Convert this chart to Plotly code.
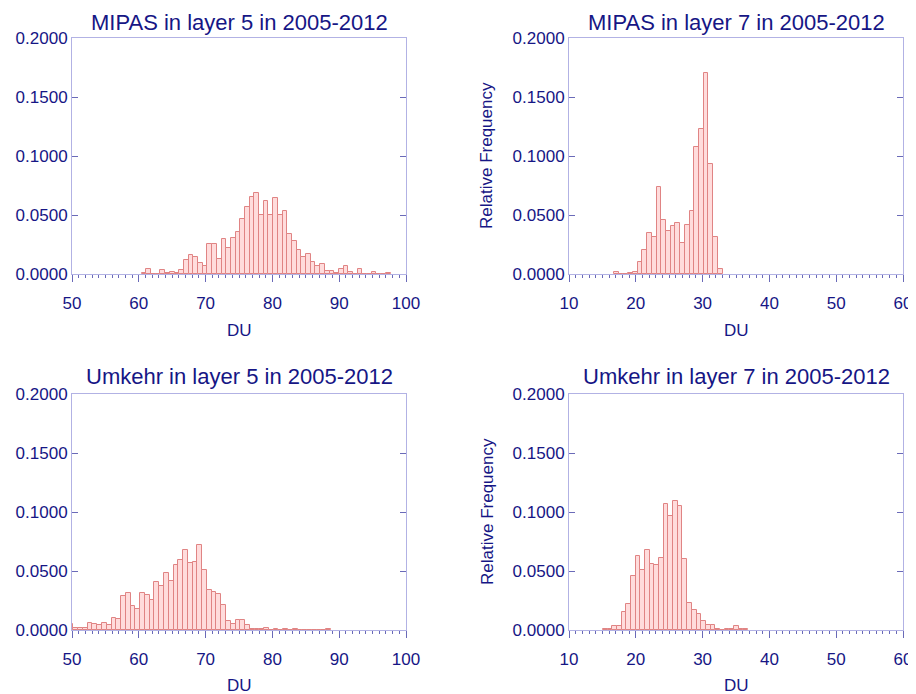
import plotly.graph_objects as go
import numpy as np

# ---------------- data ----------------
titles = ["MIPAS in layer 5 in 2005-2012", "MIPAS in layer 7 in 2005-2012",
          "Umkehr in layer 5 in 2005-2012", "Umkehr in layer 7 in 2005-2012"]
x_ranges = [[50, 100], [10, 60], [50, 100], [10, 60]]
y_ticks = [0.0, 0.05, 0.10, 0.15, 0.20]

# histogram bins: first bin left edge (DU) and bin width (DU)
mipas_l5_start, mipas_l5_width = 60.43, 0.703
mipas_l5_freq = [0.001, 0.004, 0, 0, 0.003, 0.001, 0.002, 0.001, 0.003, 0.0116,
                 0.016, 0.0144, 0.0093, 0.007, 0.0257, 0.0257, 0.013, 0.0297, 0.0223, 0.0305,
                 0.0353, 0.0466, 0.0568, 0.0653, 0.0686, 0.05, 0.0621, 0.05, 0.0641, 0.05,
                 0.0534, 0.0339, 0.028, 0.0203, 0.0144, 0.017, 0.0102, 0.007, 0.0085, 0.0028,
                 0.0028, 0.001, 0.004, 0.007, 0.002, 0, 0.004, 0, 0, 0.002,
                 0, 0, 0.001]

mipas_l7_start, mipas_l7_width = 16.74, 0.707
mipas_l7_freq = [0.0014, 0, 0, 0.0006, 0.0017, 0.0102, 0.02, 0.0345, 0.0316, 0.0734,
                 0.0455, 0.0362, 0.0407, 0.0435, 0.026, 0.0415, 0.0531, 0.108, 0.1229, 0.170,
                 0.093, 0.0316, 0.004]

umkehr_l5_start, umkehr_l5_width = 49.49, 0.714
umkehr_l5_freq = [0.0048, 0.0017, 0.0017, 0.0017, 0.0056, 0.0048, 0.004, 0.0056, 0.004, 0.0105,
                  0.009, 0.0285, 0.031, 0.02, 0.0175, 0.031, 0.0294, 0.0251, 0.0404, 0.0377,
                  0.048, 0.0412, 0.0548, 0.059, 0.0675, 0.0565, 0.0573, 0.0718, 0.0506, 0.0339,
                  0.0322, 0.0302, 0.0209, 0.0076, 0.0048, 0.0082, 0.0082, 0.004, 0.0006, 0.0006,
                  0.001, 0.002, 0, 0.0006, 0, 0.0006, 0, 0.0006, 0, 0,
                  0, 0, 0, 0, 0.0006]

umkehr_l7_start, umkehr_l7_width = 15.09, 0.70
umkehr_l7_freq = [0.0008, 0.0008, 0.0034, 0.0034, 0.015, 0.0223, 0.046, 0.0624, 0.0508, 0.0678,
                  0.0559, 0.0551, 0.061, 0.1065, 0.0969, 0.1096, 0.1053, 0.0602, 0.0226, 0.0172,
                  0.0136, 0.0076, 0.0042, 0.0042, 0.0008, 0, 0.0008, 0.0008, 0.0034, 0.0008,
                  0.0008]

panels = [(mipas_l5_start, mipas_l5_width, mipas_l5_freq),
          (mipas_l7_start, mipas_l7_width, mipas_l7_freq),
          (umkehr_l5_start, umkehr_l5_width, umkehr_l5_freq),
          (umkehr_l7_start, umkehr_l7_width, umkehr_l7_freq)]

# ---------------- styling ----------------
# the page body has an 8px margin, so the figure is placed 8px in from the window edge
OFF = 8
W, H = 916 - OFF, 694 - OFF
NAVY = "#161685"
FRAME = "#b2b2e4"
TICKC = "#6a6ab8"
FONT = "Liberation Sans, Arial, Helvetica, sans-serif"


def px_x(p):
    return (p - OFF) / W


def px_y(p):
    return 1 - (p - OFF) / H


x_dom = [[px_x(72), px_x(406)], [px_x(569), px_x(903)]]
y_dom = [[px_y(274), px_y(38)], [px_y(630), px_y(394)]]

fig = go.Figure()
layout = dict(width=W, height=H, margin=dict(l=0, r=0, t=0, b=0, autoexpand=False),
              paper_bgcolor="white", plot_bgcolor="white", showlegend=False,
              font=dict(family=FONT, color=NAVY, size=17), bargap=0)
annotations = []

for i, (start, width, freq) in enumerate(panels):
    row, col = divmod(i, 2)
    centers = start + width * (np.arange(len(freq)) + 0.5)
    sfx = "" if i == 0 else str(i + 1)
    fig.add_trace(go.Bar(x=centers, y=freq, width=width,
                         marker=dict(color="#ffdcdc", line=dict(color="#e08484", width=1)),
                         xaxis="x" + sfx, yaxis="y" + sfx, hoverinfo="x+y"))
    layout["xaxis" + sfx] = dict(
        domain=x_dom[col], anchor="y" + sfx, range=x_ranges[i], dtick=10,
        automargin=False,
        showgrid=False, zeroline=False, showline=True, linecolor=FRAME, linewidth=1,
        mirror=True, ticks="outside", ticklen=7, tickcolor=TICKC, tickwidth=1,
        minor=dict(ticks="outside", ticklen=3, dtick=1, tickcolor=TICKC, showgrid=False),
        tickfont=dict(size=17, color=NAVY, family=FONT), ticklabelstandoff=7)
    # top axis: major ticks pointing into the plot, no labels
    layout["xaxis" + str(i + 5)] = dict(
        overlaying="x" + sfx, anchor="y" + sfx, side="top", range=x_ranges[i], dtick=10,
        automargin=False, showgrid=False, zeroline=False, showline=False,
        ticks="inside", ticklen=6, tickcolor=FRAME, tickwidth=1, showticklabels=False)
    layout["yaxis" + sfx] = dict(
        domain=y_dom[row], anchor="x" + sfx, range=[0, 0.2],
        tickvals=y_ticks, tickformat=".4f", automargin=False,
        showgrid=False, zeroline=False, showline=True, linecolor=FRAME, linewidth=1,
        mirror="ticks", ticks="inside", ticklen=6, tickcolor=TICKC, tickwidth=1,
        tickfont=dict(size=17, color=NAVY, family=FONT))
    cx = (x_dom[col][0] + x_dom[col][1]) / 2
    annotations.append(dict(text=titles[i], x=cx,
                            y=1.0 if row == 0 else px_y(376),
                            xref="paper", yref="paper",
                            showarrow=False, xanchor="center",
                            yanchor="top" if row == 0 else "middle",
                            font=dict(size=22, color=NAVY, family=FONT)))
    annotations.append(dict(text="DU", x=cx, y=px_y(330 if row == 0 else 685),
                            xref="paper", yref="paper",
                            showarrow=False, xanchor="center", yanchor="middle",
                            font=dict(size=17, color=NAVY, family=FONT)))
    if col == 1:
        annotations.append(dict(text="Relative Frequency", x=px_x(487),
                                y=px_y(156 if row == 0 else 512),
                                xref="paper", yref="paper", showarrow=False,
                                textangle=-90, xanchor="center", yanchor="middle",
                                font=dict(size=17, color=NAVY, family=FONT)))

layout["annotations"] = annotations
fig.update_layout(**layout)
fig.write_html("out.html")
